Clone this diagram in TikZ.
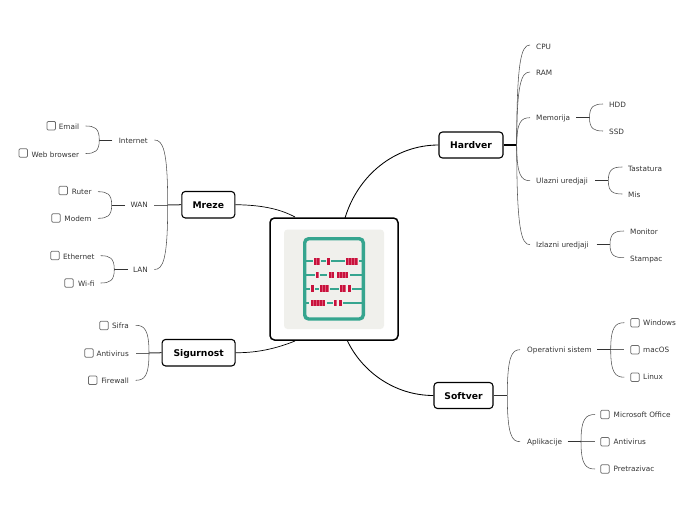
\documentclass[tikz,border=0pt]{standalone}
\usepackage{fontspec}
\setmainfont{DejaVu Sans}
\usetikzlibrary{calc}
\definecolor{ink}{HTML}{333333}
\definecolor{teal1}{HTML}{36A58F}
\definecolor{crim}{HTML}{C8123C}
\definecolor{crimlt}{HTML}{DC5A78}
\definecolor{pale}{HTML}{F0F0EC}
\tikzset{
 topic/.style={draw=black,line width=1.1pt,rounded corners=3.5pt,fill=white,inner sep=0pt,font=\fontsize{9.2}{10}\selectfont\bfseries,text=black,text height=7.4pt,text depth=0pt},
 lbl/.style={inner sep=0pt,font=\fontsize{7.3}{8}\selectfont,text=ink,text height=5.6pt,text depth=0.2pt},
 lw/.style={lbl,anchor=west},
 le/.style={lbl,anchor=east},
 chk/.style={draw=gray!85!black,line width=.75pt,rounded corners=1.2pt,fill=white,minimum size=8.6pt,inner sep=0pt},
 stem/.style={draw=ink,line width=1pt},
 thinline/.style={draw=gray!80!black,line width=.6pt},
 curve/.style={draw=ink!85!white,line width=.55pt},
 link/.style={draw=black,line width=.85pt},
}
\newcommand{\brk}[2]{\draw[curve] (#1) .. controls ($(#1)!0.85!(#1|-#2)$) and ($(#2)!0.65!(#1|-#2)$) .. (#2);}
\newcommand{\bead}[3]{\fill[crimlt] (#2,#1-3.4) rectangle ({#2+#3*3-.3},#1+3.4);
 \foreach \i in {1,...,#3}{\fill[crim] ({#2+(\i-1)*3},#1-3.4) rectangle ({#2+(\i-1)*3+2.3},#1+3.4);}}
\newcommand{\rail}[2]{\draw[teal1,line width=1.7pt] (306,#1) -- (362,#1);
 \foreach \a/\n in {#2}{\fill[pale] (\a-1.5,#1-1.2) rectangle ({\a+\n*3+1},#1+1.2); \bead{#1}{\a}{\n}}}
\begin{document}
\begin{tikzpicture}[x=1pt,y=-1pt]
\useasboundingbox (0,0) rectangle (696,520);
% coordinates on the main topic
\coordinate (mH) at (345,218);
\coordinate (mS) at (347,340);
\coordinate (mM) at (295,217);
\coordinate (mG) at (295,341);
% topics
\node[topic,minimum width=64pt,minimum height=26pt] (hardver) at (471,145) {Hardver};
\node[topic,minimum width=59pt,minimum height=26pt] (softver) at (463.5,395.5) {Softver};
\node[topic,minimum width=53pt,minimum height=26.5pt] (mreze) at (208.3,204.7) {Mreze};
\node[topic,minimum width=73pt,minimum height=26.5pt] (sigurnost) at (198.6,352.7) {Sigurnost};
% main connectors
\draw[link] (mH) .. controls (358,175) and (395,145) .. (hardver.west);
\draw[link] (mS) .. controls (362,372) and (395,395.5) .. (softver.west);
\draw[link,line width=.7pt] (mreze.east) .. controls (262,205) and (280,209) .. (mM);
\draw[link,line width=.7pt] (sigurnost.east) .. controls (260,353) and (280,347) .. (mG);
% main topic
\node[draw=black,line width=1.5pt,rounded corners=4.5pt,fill=white,minimum width=128pt,minimum height=122pt,inner sep=0pt] (main) at (334,279) {};
\fill[pale,rounded corners=3.5pt] (284,229.5) rectangle (384,329);
\rail{261.3}{314/2,327.3/1,346/4}
\rail{275}{316/1,328.7/2,336.7/4}
\rail{288.7}{311.3/1,320/3,340/2,348.3/1}
\rail{303}{310.7/5,334/1,339.3/1}
\draw[teal1,line width=3.4pt,rounded corners=4pt] (304.7,238.7) rectangle (363.3,319);
% Hardver
\coordinate (hb) at (516.7,145);
\draw[stem,line width=1.2pt,draw=black] (hardver.east) -- (hb);
\node[lw] (cpu) at (536,46.5) {CPU};
\node[lw] (ram) at (536,72.5) {RAM};
\node[lw] (mem) at (536,118) {Memorija};
\node[lw] (ula) at (536,181) {Ulazni uredjaji};
\node[lw] (izl) at (536,244.5) {Izlazni uredjaji};
\coordinate (ecpu) at (530,45);\coordinate (eram) at (530,72);\coordinate (emem) at (530,117.7);\coordinate (eula) at (530,180.7);\coordinate (eizl) at (530,244.7);
\brk{hb}{ecpu}\brk{hb}{eram}\brk{hb}{emem}\brk{hb}{eula}\brk{hb}{eizl}
% Memorija
\coordinate (mb0) at (576,117.7);\coordinate (mb) at (589.5,117.7);
\draw[stem] (mb0) -- (mb);
\node[lw] (hdd) at (609,104.5) {HDD};
\node[lw] (ssd) at (609,131.5) {SSD};
\coordinate (ehdd) at (603,104);\coordinate (essd) at (603,131);
\brk{mb}{ehdd}\brk{mb}{essd}
% Ulazni
\coordinate (ub0) at (595,180.7);\coordinate (ub) at (608.3,180.7);
\draw[stem] (ub0) -- (ub);
\node[lw] (tas) at (628,168.5) {Tastatura};
\node[lw] (mis) at (628,194.5) {Mis};
\coordinate (etas) at (622.3,167);\coordinate (emis) at (622.3,194);
\brk{ub}{etas}\brk{ub}{emis}
% Izlazni
\coordinate (ib0) at (596.7,244.7);\coordinate (ib) at (610,244.7);
\draw[stem] (ib0) -- (ib);
\node[lw] (mon) at (630,231.5) {Monitor};
\node[lw] (sta) at (630,258.5) {Stampac};
\coordinate (emon) at (624,231);\coordinate (esta) at (624,257.7);
\brk{ib}{emon}\brk{ib}{esta}
% Softver
\coordinate (sb) at (507.3,395.5);
\draw[stem] (softver.east) -- (sb);
\node[lw] (ope) at (527,349.7) {Operativni sistem};
\node[lw] (apl) at (527,441.7) {Aplikacije};
\coordinate (eope) at (520,349.7);\coordinate (eapl) at (520,441.7);
\brk{sb}{eope}\brk{sb}{eapl}
% Operativni
\coordinate (ob0) at (597.3,349.7);\coordinate (ob) at (610.7,349.7);
\node[chk] (c1) at (635,322.7) {};\node[chk] (c2) at (635,349.7) {};\node[chk] (c3) at (635,377.2) {};
\node[lw] (win) at (643,322.7) {Windows};
\node[lw] (mac) at (643,349.7) {macOS};
\node[lw] (lin) at (643,377.2) {Linux};
\coordinate (e1) at (624.3,322.7);\coordinate (e2) at (624.3,349.7);\coordinate (e3) at (624.3,377.2);
\draw[thinline] (ob) -- (e2);
\draw[stem] (ob0) -- (ob);
\brk{ob}{e1}\brk{ob}{e3}
% Aplikacije
\coordinate (ab0) at (567.7,441.7);\coordinate (ab) at (581,441.7);
\node[chk] (c4) at (605,414.5) {};\node[chk] (c5) at (605,441.7) {};\node[chk] (c6) at (605,469) {};
\node[lw] (off) at (613.5,414.5) {Microsoft Office};
\node[lw] (ant) at (613.5,442) {Antivirus};
\node[lw] (pre) at (613.5,469) {Pretrazivac};
\coordinate (e4) at (595,414.5);\coordinate (e5) at (595,441.7);\coordinate (e6) at (595,469);
\draw[thinline] (ab) -- (e5);
\draw[stem] (ab0) -- (ab);
\brk{ab}{e4}\brk{ab}{e6}
% Mreze
\coordinate (rb) at (167.7,205);\coordinate (eint) at (154.3,140);\coordinate (ewan) at (154.3,205);\coordinate (elan) at (154.3,269.5);
\draw[thinline] (rb) -- (ewan);
\draw[stem] (mreze.west) -- (rb);
\brk{rb}{eint}\brk{rb}{elan}
\node[le] (int) at (148,140.5) {Internet};
\node[le] (wan) at (148,205) {WAN};
\node[le] (lan) at (148,269.5) {LAN};
% Internet
\coordinate (nb0) at (112.3,140);\coordinate (nb) at (99.3,140);
\draw[stem] (nb0) -- (nb);
\coordinate (e7) at (85.7,126);\coordinate (e8) at (85.7,153.5);
\brk{nb}{e7}\brk{nb}{e8}
\node[le] (ema) at (79.3,126.5) {Email};
\node[le] (web) at (79.3,154.5) {Web browser};
\node[chk] (c7) at (51.3,125.7) {};\node[chk] (c8) at (23.3,153) {};
% WAN
\coordinate (wb0) at (125,205);\coordinate (wb) at (111.7,205);
\draw[stem] (wb0) -- (wb);
\coordinate (e9) at (98,191.7);\coordinate (e10) at (98,218.3);
\brk{wb}{e9}\brk{wb}{e10}
\node[le] (rut) at (91.7,191.7) {Ruter};
\node[le] (mod) at (91.7,218.5) {Modem};
\node[chk] (c9) at (63.3,190.5) {};\node[chk] (c10) at (56,218) {};
% LAN
\coordinate (lb0) at (128,269.5);\coordinate (lb) at (114.3,269.5);
\draw[stem] (lb0) -- (lb);
\coordinate (e11) at (100.7,255.7);\coordinate (e12) at (100.7,283);
\brk{lb}{e11}\brk{lb}{e12}
\node[le] (eth) at (94.7,256.5) {Ethernet};
\node[le] (wif) at (94.7,283.5) {Wi-fi};
\node[chk] (c11) at (55,255.5) {};\node[chk] (c12) at (69,283) {};
% Sigurnost
\coordinate (gb) at (149,353);\coordinate (e13) at (135.7,325.3);\coordinate (e14) at (135.7,353);\coordinate (e15) at (135.7,380.3);
\draw[thinline] (gb) -- (e14);
\draw[stem] (sigurnost.west) -- (gb);
\brk{gb}{e13}\brk{gb}{e15}
\node[le] (sif) at (129,325.7) {Sifra};
\node[le] (av) at (129,353.3) {Antivirus};
\node[le] (fir) at (129,380.7) {Firewall};
\node[chk] (c13) at (104,325.5) {};\node[chk] (c14) at (89,353) {};\node[chk] (c15) at (92.7,380.3) {};
\end{tikzpicture}
\end{document}
